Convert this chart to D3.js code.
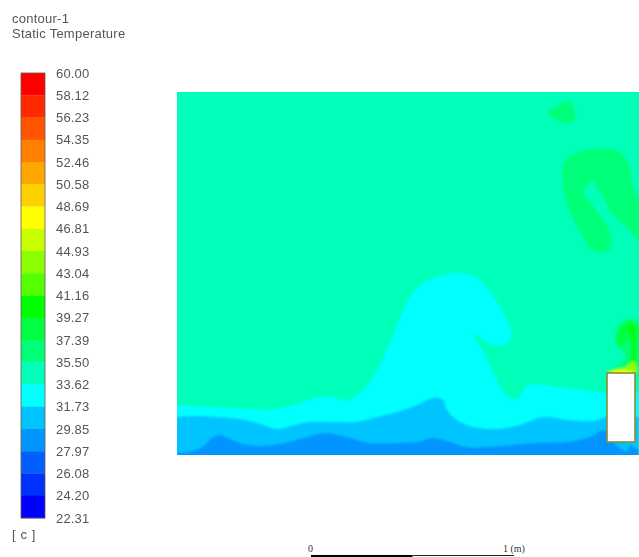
<!DOCTYPE html>
<html><head><meta charset="utf-8">
<script src="https://cdn.jsdelivr.net/npm/d3@7"></script>
<style>html,body{margin:0;padding:0;background:#fff}svg{display:block}</style>
</head><body><svg id="c" width="639" height="557"></svg>
<script>
const titleLines = ["contour-1", "Static Temperature"];
const unitLabel = "[ c ]";
const tickValues = [60.00,58.12,56.23,54.35,52.46,50.58,48.69,46.81,44.93,43.04,41.16,39.27,37.39,35.50,33.62,31.73,29.85,27.97,26.08,24.20,22.31];
const bandColors = ["#ff0000","#ff2a00","#ff5500","#ff8000","#ffa600","#ffd000","#ffff00","#c8ff00","#8cff00","#55ff00","#00ff00","#00ff40","#00ff78","#00ffb9","#00ffff","#00c4ff","#0095ff","#0060ff","#0030ff","#0000ff"];
const scaleBarMetres = [0, 0.5, 1];

// Contour outlines, in mesh units
const meshExtent = [462, 363];
const band14Edge = [[0,50],[26,48],[60,47],[93,45],[110,48],[126,53],[143,58],[156,58],[168,54],[183,62],[196,78],[210,105],[223,137],[233,158],[246,172],[263,179],[283,182],[300,177],[313,163],[323,148],[331,132],[335,120],[330,112],[321,109],[310,113],[296,122],[305,105],[315,85],[323,68],[333,57],[341,57],[351,70],[366,70],[396,66],[430,62],[462,62]];
const band15Edge = [[0,38],[16,39],[40,38],[63,36],[80,32],[100,26],[113,29],[133,33],[160,33],[180,33],[200,38],[220,43],[240,50],[256,57],[266,55],[270,45],[280,35],[296,28],[320,26],[343,30],[366,38],[390,35],[416,34],[430,38],[462,38]];
const band16Edge = [[0,2],[16,4],[28,10],[36,18],[43,20],[53,16],[66,11],[83,9],[103,11],[126,17],[150,22],[170,18],[193,12],[216,12],[240,13],[256,17],[273,13],[290,8],[323,9],[356,12],[390,13],[413,18],[426,25],[430,23],[462,5]];
const smallBlob = [[371,342],[381,350],[393,353],[398,343],[396,333],[386,332],[376,337]];
const archBlob = [[386,290],[395,300],[420,307],[443,303],[453,287],[456,270],[462,257],[468,240],[468,205],[462,213],[450,227],[436,240],[423,263],[415,273],[406,263],[410,257],[423,240],[433,223],[434,207],[425,202],[413,207],[401,227],[390,250],[386,270]];
const underBlockLobe = [[437,12],[450,4],[452,12]];
const plumeOuter = [[430,82],[431,85],[441,90],[448,98],[443,107],[438,117],[441,128],[448,135],[455,137],[462,132],[468,115],[468,82]];
const plumeMid = [[439,115],[443,128],[452,134],[462,127],[461,110],[459,84],[453,84],[454,105],[451,116],[446,110],[441,108]];
const plumeCore = [[450,128],[454,131],[458,126],[457,110],[458,84],[455,84],[455.5,110],[453,124]];
const plumeWarm = [[431,83],[440,86],[449,88],[454,93],[458,93],[459,82]];
const plumeHot = [[433,82],[441,84.5],[450,84.5],[456,83],[456,82]];
const blockCorners = [[430,82],[458,13]];

const svg = d3.select("#c");
const font = "'Liberation Sans', Arial, sans-serif";
const textCol = "#555555";

const defs = svg.append("defs");
const soft = (id,s)=>defs.append("filter").attr("id",id).attr("x","-5%").attr("y","-5%").attr("width","110%").attr("height","110%")
  .append("feGaussianBlur").attr("stdDeviation",s);
soft("soft",1.0); soft("softer",0.35);

// title
svg.append("g").attr("filter","url(#softer)").selectAll("text").data(titleLines).join("text")
  .attr("x",12).attr("y",(d,i)=>23+i*15)
  .attr("font-family",font).attr("font-size",13).attr("letter-spacing",0.25).attr("fill",textCol).text(d=>d);

// legend
const legendY = d3.scaleLinear().domain([0,tickValues.length-1]).range([73,518]);
const legend = svg.append("g");
const legendBars = legend.append("g").attr("filter","url(#softer)");
legendBars.selectAll("rect").data(bandColors).join("rect")
  .attr("x",21).attr("width",24)
  .attr("y",(d,i)=>legendY(i)).attr("height",(d,i)=>legendY(i+1)-legendY(i)+0.3)
  .attr("fill",d=>d);
legendBars.append("rect").attr("x",21).attr("y",legendY(0)).attr("width",24)
  .attr("height",legendY(tickValues.length-1)-legendY(0))
  .attr("fill","none").attr("stroke","#6b5a50").attr("stroke-width",0.8);
legend.append("g").attr("filter","url(#softer)").selectAll("text").data(tickValues).join("text")
  .attr("x",56).attr("y",(d,i)=>legendY(i)+4.5)
  .attr("font-family",font).attr("font-size",13).attr("letter-spacing",0.15).attr("fill",textCol)
  .text(d=>d.toFixed(2));
svg.append("text").attr("x",12).attr("y",539).attr("font-family",font).attr("filter","url(#softer)")
  .attr("font-size",13).attr("letter-spacing",0.6).attr("fill",textCol).attr("xml:space","preserve").text(unitLabel);

// contour field
const x = d3.scaleLinear().domain([0,meshExtent[0]]).range([177,639]);
const y = d3.scaleLinear().domain([0,meshExtent[1]]).range([455,92]);
const smoothOpen = d3.line().x(d=>x(d[0])).y(d=>y(d[1])).curve(d3.curveCatmullRom.alpha(0.5));
const smoothClosed = d3.line().x(d=>x(d[0])).y(d=>y(d[1])).curve(d3.curveCatmullRomClosed.alpha(0.5));
const toFloor = e => smoothOpen(e)+`L${x(meshExtent[0])},${y(0)}L${x(0)},${y(0)}Z`;

defs.append("clipPath").attr("id","dom").append("rect")
  .attr("x",x(0)).attr("y",y(meshExtent[1])).attr("width",x(meshExtent[0])-x(0)).attr("height",y(0)-y(meshExtent[1]));

const outer = svg.append("g").attr("clip-path","url(#dom)");
const field = outer.append("g").attr("filter","url(#soft)");
field.append("rect").attr("x",x(0)-4).attr("y",y(meshExtent[1])-4).attr("width",x(meshExtent[0])-x(0)+8).attr("height",y(0)-y(meshExtent[1])+8).attr("fill",bandColors[13]);
field.append("path").attr("d",smoothOpen(band14Edge)+`L${x(462)},${y(-4)}L${x(-4)},${y(-4)}L${x(-4)},${y(50)}Z`).attr("fill",bandColors[14]);
field.append("path").attr("d",smoothOpen(band15Edge)+`L${x(462)},${y(-4)}L${x(-4)},${y(-4)}L${x(-4)},${y(38)}Z`).attr("fill",bandColors[15]);
field.append("path").attr("d",smoothOpen(band16Edge)+`L${x(462)},${y(-4)}L${x(-4)},${y(-4)}L${x(-4)},${y(2)}Z`).attr("fill",bandColors[16]);
field.append("path").attr("d",smoothClosed(underBlockLobe)).attr("fill",bandColors[15]);
field.append("path").attr("d",smoothClosed(smallBlob)).attr("fill",bandColors[12]);
field.append("path").attr("d",smoothClosed(archBlob)).attr("fill",bandColors[12]);
field.append("path").attr("d",smoothClosed(plumeOuter)).attr("fill",bandColors[12]);
field.append("path").attr("d",smoothClosed(plumeMid)).attr("fill",bandColors[11]);
field.append("path").attr("d",smoothClosed(plumeCore)).attr("fill",bandColors[10]);
field.append("path").attr("d",smoothClosed(plumeWarm)).attr("fill",bandColors[8]);
field.append("path").attr("d",smoothClosed(plumeHot)).attr("fill",bandColors[6]);

const [bTL,bBR] = blockCorners;
const blockG = outer.append("g").attr("filter","url(#softer)");
blockG.append("rect").attr("x",x(bTL[0])).attr("y",y(bTL[1]))
  .attr("width",x(bBR[0])-x(bTL[0])).attr("height",y(bBR[1])-y(bTL[1]))
  .attr("fill","#fff").attr("stroke","#8c8a3a").attr("stroke-width",1.6);

// scale bar
const bar = d3.scaleLinear().domain([0,1]).range([311,514]);
svg.append("rect").attr("x",bar(scaleBarMetres[0])).attr("y",555).attr("width",bar(scaleBarMetres[1])-bar(0)).attr("height",2).attr("fill","#000");
svg.append("rect").attr("x",bar(scaleBarMetres[1])).attr("y",555).attr("width",bar(scaleBarMetres[2])-bar(scaleBarMetres[1])).attr("height",1).attr("fill","#222");
const serif = "'Liberation Serif', 'Times New Roman', serif";
svg.append("text").attr("x",bar(0)-3).attr("y",552).attr("font-family",serif).attr("font-size",10).attr("fill","#333").text("0");
svg.append("text").attr("x",bar(1)-11).attr("y",552).attr("font-family",serif).attr("font-size",10).attr("fill","#333").text("1 (m)");
</script></body></html>
